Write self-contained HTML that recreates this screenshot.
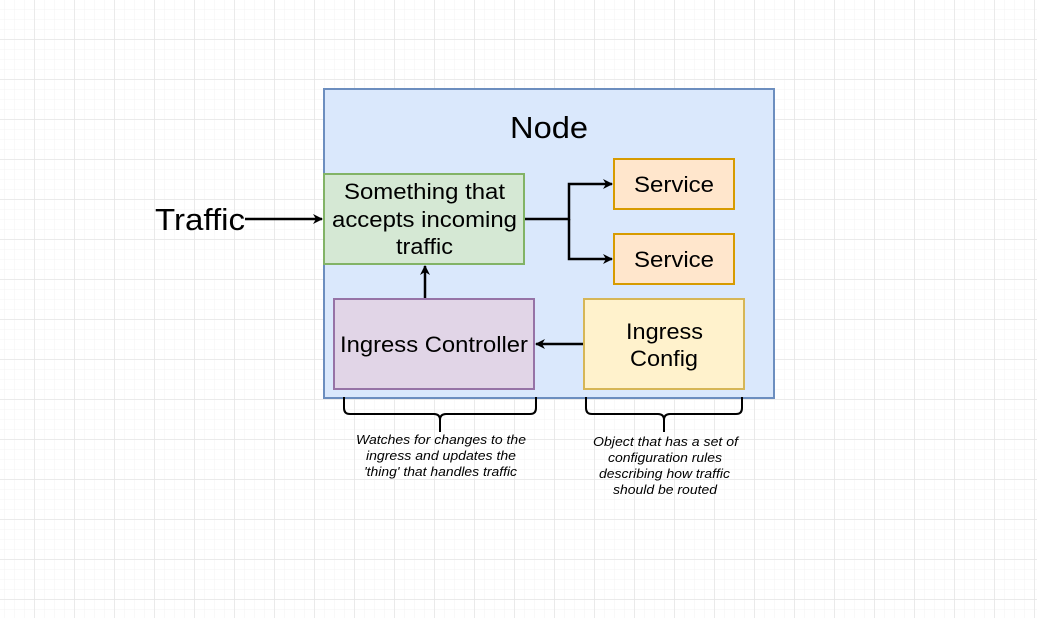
<!DOCTYPE html>
<html><head><style>body{margin:0;background:#fff}svg{display:block}text{font-family:"Liberation Sans",Arial,sans-serif}</style></head><body>
<svg width="1037" height="618" xmlns="http://www.w3.org/2000/svg">
<defs>
<pattern id="minor" x="4" y="9" width="10" height="10" patternUnits="userSpaceOnUse"><path d="M0 0H10M0 0V10" stroke="#f3f3f3" stroke-width="1" fill="none"/></pattern>
<pattern id="major" x="34.5" y="39.5" width="40" height="40" patternUnits="userSpaceOnUse"><path d="M0 0H40M0 0V40" stroke="#e2e2e2" stroke-width="1" fill="none"/></pattern>
<marker id="ah" markerWidth="10" markerHeight="10" refX="9" refY="5" orient="auto" markerUnits="userSpaceOnUse"><path d="M0 0L10 5L0 10L3 5Z" fill="#000"/></marker>
</defs>
<rect width="1037" height="618" fill="url(#minor)"/>
<rect width="1037" height="618" fill="url(#major)"/>
<g stroke-width="2">
<rect x="324" y="89" width="450" height="309" fill="#dae8fc" stroke="#6c8ebf"/>
<rect x="324" y="174" width="200" height="90" fill="#d5e8d4" stroke="#82b366"/>
<rect x="614" y="159" width="120" height="50" fill="#ffe6cc" stroke="#d79b00"/>
<rect x="614" y="234" width="120" height="50" fill="#ffe6cc" stroke="#d79b00"/>
<rect x="334" y="299" width="200" height="90" fill="#e1d5e7" stroke="#9673a6"/>
<rect x="584" y="299" width="160" height="90" fill="#fff2cc" stroke="#d6b656"/>
</g>
<text x="549" y="138" font-size="31" text-anchor="middle" textLength="78" lengthAdjust="spacingAndGlyphs">Node</text>
<text x="424.5" y="199" font-size="22" text-anchor="middle" textLength="161" lengthAdjust="spacingAndGlyphs">Something that</text>
<text x="424.5" y="227" font-size="22" text-anchor="middle" textLength="185" lengthAdjust="spacingAndGlyphs">accepts incoming</text>
<text x="424.5" y="254" font-size="22" text-anchor="middle" textLength="57" lengthAdjust="spacingAndGlyphs">traffic</text>
<text x="674" y="192" font-size="22" text-anchor="middle" textLength="80" lengthAdjust="spacingAndGlyphs">Service</text>
<text x="674" y="267" font-size="22" text-anchor="middle" textLength="80" lengthAdjust="spacingAndGlyphs">Service</text>
<text x="434" y="352" font-size="22" text-anchor="middle" textLength="188" lengthAdjust="spacingAndGlyphs">Ingress Controller</text>
<text x="664.5" y="339" font-size="22" text-anchor="middle" textLength="77" lengthAdjust="spacingAndGlyphs">Ingress</text>
<text x="664" y="366" font-size="22" text-anchor="middle" textLength="68" lengthAdjust="spacingAndGlyphs">Config</text>
<text x="200" y="230" font-size="31" text-anchor="middle" textLength="90" lengthAdjust="spacingAndGlyphs">Traffic</text>
<g stroke="#000" stroke-width="2.5" fill="none">
<path d="M245 219H322" marker-end="url(#ah)"/>
<path d="M525 219H569V184H612" marker-end="url(#ah)"/>
<path d="M569 219V259H612" marker-end="url(#ah)"/>
<path d="M425 298V266" marker-end="url(#ah)"/>
<path d="M583 344H536" marker-end="url(#ah)"/>
<path d="M344 397V408Q344 414 350 414H434Q440 414 440 420V432M440 420Q440 414 446 414H530Q536 414 536 408V397" stroke-width="2"/>
<path d="M586 397V408Q586 414 592 414H658Q664 414 664 420V432M664 420Q664 414 670 414H736Q742 414 742 408V397" stroke-width="2"/>
</g>
<g font-size="12.5" font-style="italic" text-anchor="middle">
<text x="441" y="444" textLength="170" lengthAdjust="spacingAndGlyphs">Watches for changes to the</text>
<text x="441" y="460" textLength="150" lengthAdjust="spacingAndGlyphs">ingress and updates the</text>
<text x="440.5" y="476" textLength="153" lengthAdjust="spacingAndGlyphs">'thing' that handles traffic</text>
<text x="665.5" y="446" textLength="145" lengthAdjust="spacingAndGlyphs">Object that has a set of</text>
<text x="665" y="462" textLength="114" lengthAdjust="spacingAndGlyphs">configuration rules</text>
<text x="664.5" y="478" textLength="131" lengthAdjust="spacingAndGlyphs">describing how traffic</text>
<text x="665" y="494" textLength="104" lengthAdjust="spacingAndGlyphs">should be routed</text>
</g>
</svg>
</body></html>
